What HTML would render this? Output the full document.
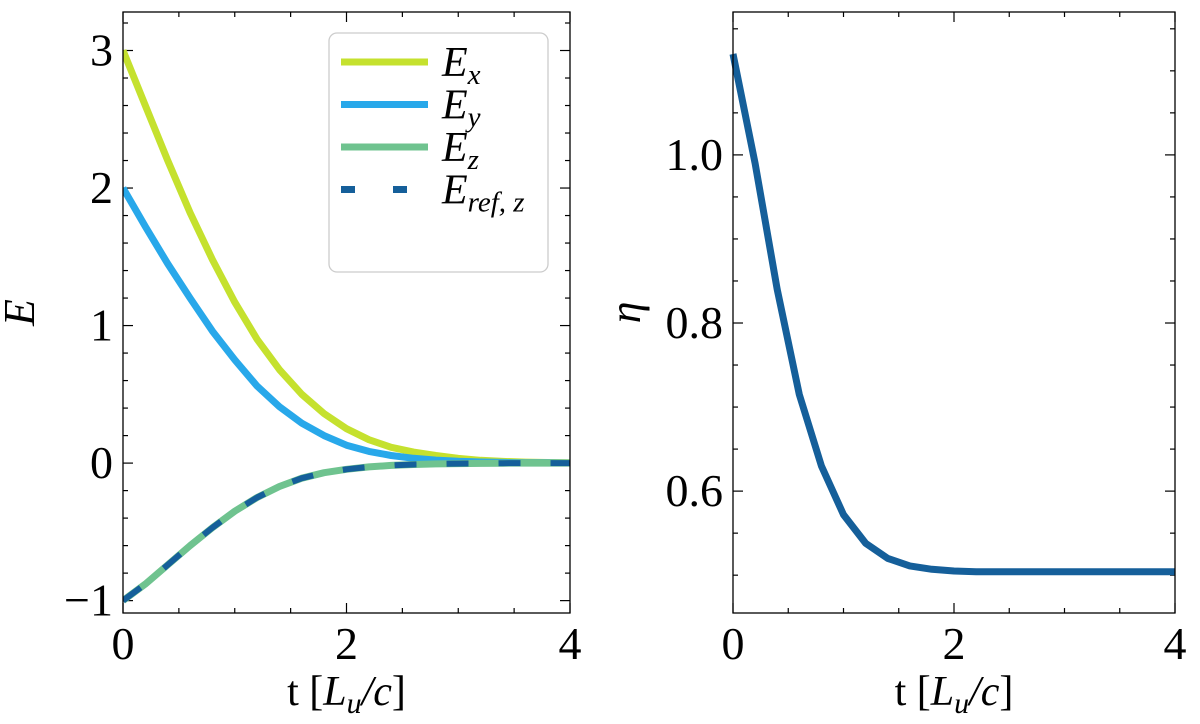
<!DOCTYPE html>
<html><head><meta charset="utf-8"><style>
body{margin:0;background:#fff}
svg{display:block;font-family:"Liberation Serif",serif}
</style></head><body>
<svg id="fig" width="1200" height="724" viewBox="0 0 1200 724" xmlns="http://www.w3.org/2000/svg">
<defs><clipPath id="c1"><rect x="123" y="12" width="447" height="601"/></clipPath></defs>
<g id="left"></g>
<g id="right"></g>
</svg>
<script>
const tVals=[0,0.2,0.4,0.6,0.8,1.0,1.2,1.4,1.6,1.8,2.0,2.2,2.4,2.6,2.8,3.0,3.2,3.4,3.6,3.8,4.0];
const exVals=[3,2.6,2.2,1.82,1.48,1.17,0.9,0.68,0.5,0.36,0.25,0.17,0.115,0.08,0.055,0.035,0.02,0.012,0.007,0.004,0.002];
const eyVals=[2,1.72,1.45,1.2,0.96,0.75,0.56,0.41,0.29,0.2,0.13,0.085,0.055,0.035,0.022,0.013,0.008,0.005,0.003,0.002,0.001];
const ezVals=[-1,-0.88,-0.74,-0.6,-0.47,-0.35,-0.25,-0.17,-0.11,-0.07,-0.045,-0.028,-0.017,-0.01,-0.006,-0.004,-0.002,-0.001,0,0,0];
const etaVals=[1.12,0.99,0.84,0.715,0.63,0.572,0.538,0.52,0.511,0.507,0.505,0.504,0.504,0.504,0.504,0.504,0.504,0.504,0.504,0.504,0.504];
const xTicks=[0,2,4];
const leftYTicks=[-1,0,1,2,3];
const leftYTickLabels=["\u22121","0","1","2","3"];
const rightYTicks=[0.6,0.8,1.0];
const rightYTickLabels=["0.6","0.8","1.0"];
const NS="http://www.w3.org/2000/svg";
function mk(tag,attrs,parent){const e=document.createElementNS(NS,tag);for(const k in attrs)e.setAttribute(k,attrs[k]);parent.appendChild(e);return e;}
function axes(g,x0,x1,y0,y1,xmin,xmax,ymin,ymax,yTicks,yLabels,yMinorStep,ylabelText,ylabelX){
  const sx=v=>x0+(v-xmin)/(xmax-xmin)*(x1-x0);
  const sy=v=>y1-(v-ymin)/(ymax-ymin)*(y1-y0);
  for(let v=xmin;v<=xmax+1e-9;v+=0.5){const X=sx(v);const maj=Math.abs(v-Math.round(v/2)*2)<1e-9;const L=maj?10:5;
    const t1=mk('line',{x1:X,x2:X,y1:y1,y2:y1-L,stroke:'#000','stroke-width':1.2},g);
    
    const t2=mk('line',{x1:X,x2:X,y1:y0,y2:y0+L,stroke:'#000','stroke-width':1.2},g);
    }
  let start=Math.ceil(ymin/yMinorStep-1e-9)*yMinorStep;
  for(let v=start;v<=ymax+1e-9;v+=yMinorStep){const Y=sy(v);const maj=yTicks.some(t=>Math.abs(t-v)<1e-6);const L=maj?10:5;
    const t1=mk('line',{x1:x0,x2:x0+L,y1:Y,y2:Y,stroke:'#000','stroke-width':1.2},g);
    
    const t2=mk('line',{x1:x1,x2:x1-L,y1:Y,y2:Y,stroke:'#000','stroke-width':1.2},g);
    }
  xTicks.forEach(v=>{const t=mk('text',{x:sx(v),y:y1+46,'font-size':46,'text-anchor':'middle'},g);t.textContent=v;
    });
  yTicks.forEach((v,i)=>{const t=mk('text',{x:x0-10,y:sy(v)+15,'font-size':46,'text-anchor':'end'},g);t.textContent=yLabels[i];
    });
  const xl=mk('text',{x:(x0+x1)/2,y:y1+92,'font-size':42,'text-anchor':'middle'},g);
  xl.innerHTML='t [<tspan font-style="italic">L<tspan font-size="30" dy="8">u</tspan><tspan dy="-8">/c</tspan></tspan>]';
  
  const yl=mk('text',{x:ylabelX,y:(y0+y1)/2,'font-size':44,'font-style':'italic','text-anchor':'middle',transform:`rotate(-90 ${ylabelX} ${(y0+y1)/2})`},g);
  yl.textContent=ylabelText;
  return {sx,sy};
}
function line(g,sx,sy,ys,color,w,dash,name){
  const d=tVals.map((t,i)=>(i?'L':'M')+sx(t).toFixed(1)+','+sy(ys[i]).toFixed(1)).join('');
  const p=mk('path',{d:d,fill:'none',stroke:color,'stroke-width':w,'stroke-linejoin':'round'},g);
  if(dash)p.setAttribute('stroke-dasharray',dash);
  
}
const L=document.getElementById('left'),R=document.getElementById('right');
const a=axes(L,123,570,12,613,0,4,-1.09,3.28,leftYTicks,leftYTickLabels,0.2,'E',34);
const cl=mk('g',{'clip-path':'url(#c1)'},L);
line(cl,a.sx,a.sy,exVals,'#c5e12e',7,null,'ex-line');
line(cl,a.sx,a.sy,eyVals,'#28a8ea',7,null,'ey-line');
line(cl,a.sx,a.sy,ezVals,'#6fc38f',7,null,'ez-line');
line(cl,a.sx,a.sy,ezVals,'#155f9a',6,'22 30','eref-z-line');
line(cl,a.sx,a.sy,ezVals,'#6fc38f',6,'0 22 30 0','ez-overlay');
mk('rect',{x:123,y:12,width:447,height:601,fill:'none',stroke:'#000','stroke-width':1.3},L);
const lg=mk('g',{},L);
mk('rect',{x:329,y:33,width:219,height:239,rx:8,fill:'#fff',stroke:'#ccc','stroke-width':1.3},lg);
const ents=[['#c5e12e',null,'E','x'],['#28a8ea',null,'E','y'],['#6fc38f',null,'E','z'],['#155f9a','22 30','E','ref, z']];
ents.forEach((e,i)=>{const y=62+i*42.5;
  const ln=mk('line',{x1:341,x2:428,y1:y,y2:y,stroke:e[0],'stroke-width':7},lg);
  if(e[1])ln.setAttribute('stroke-dasharray','14 38');
  
  const t=mk('text',{x:442,y:y+14,'font-size':42,'font-style':'italic'},lg);
  t.innerHTML=e[2]+'<tspan font-size="29" dy="8">'+e[3]+'</tspan>';
  });
const b=axes(R,733,1175,12,613,0,4,0.455,1.17,rightYTicks,rightYTickLabels,0.05,'\u03b7',640);
line(R,b.sx,b.sy,etaVals,'#155f9a',7,null,'eta-line');
mk('rect',{x:733,y:12,width:442,height:601,fill:'none',stroke:'#000','stroke-width':1.3},R);
</script>
</body></html>
